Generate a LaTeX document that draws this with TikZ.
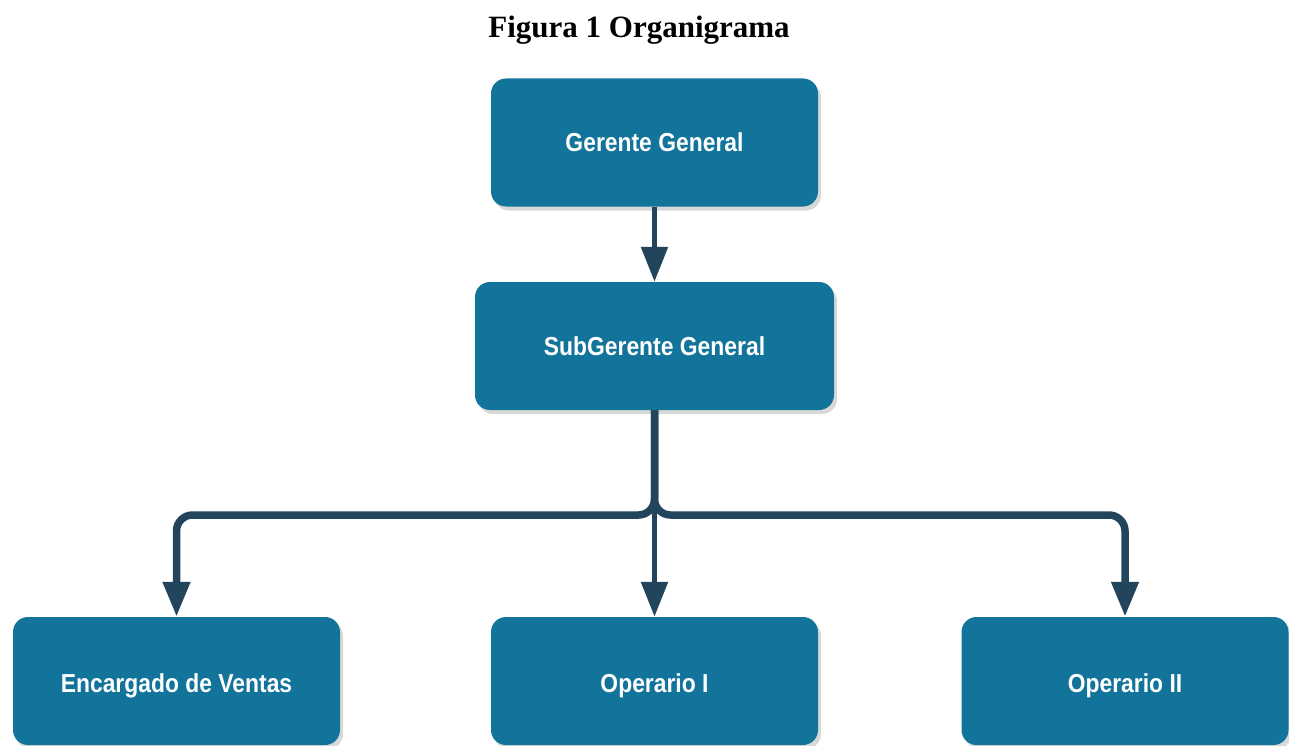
\documentclass[tikz,border=0pt]{standalone}
\usepackage{fontspec}
\setmainfont{Liberation Serif}
\newfontfamily\boxfont[FakeStretch=0.88]{Liberation Sans}
\usetikzlibrary{arrows.meta,shadows}
\definecolor{boxblue}{RGB}{18,115,155}
\definecolor{linkblue}{RGB}{35,68,93}
\newcommand{\lowtext}[1]{\raisebox{-5pt}[\height][\depth]{#1}}
\tikzset{
  unit/.style={rectangle, rounded corners=15pt, fill=boxblue, text=white,
    font=\boxfont\fontsize{26}{30}\selectfont\bfseries,
    minimum width=327pt, minimum height=128pt, inner sep=0pt,
    drop shadow={shadow xshift=3pt, shadow yshift=-4pt, fill=black!30}},
  conn/.style={draw=linkblue, line width=5.5pt,
    -{Triangle[length=35pt,width=26pt]}},
  branch/.style={conn, line width=7.5pt, rounded corners=16pt},
}
\begin{document}
\begin{tikzpicture}[x=1pt,y=-1pt]
  \useasboundingbox (0,0) rectangle (1289,746);
  \node[font=\fontsize{31}{36}\selectfont\bfseries] (title) at (639,30) {Figura 1 Organigrama};

  \node[unit] (g) at (654.5,142.5) {Gerente General};
  \node[unit, minimum width=359pt] (s) at (654.5,346) {SubGerente General};
  \node[unit] (e) at (176.5,681) {\lowtext{Encargado de Ventas}};
  \node[unit] (o1) at (654.5,681) {\lowtext{Operario I}};
  \node[unit] (o2) at (1125,681) {\lowtext{Operario II}};

  \coordinate (bar) at (654.5,515);

  \draw[conn] (g.south) -- (s.north);
  \draw[branch] (s.south) -- (bar) -| (e.north);
  \draw[branch] (s.south) -- (bar) -| (o2.north);
  \draw[conn] (s.south) -- (o1.north);
\end{tikzpicture}
\end{document}
